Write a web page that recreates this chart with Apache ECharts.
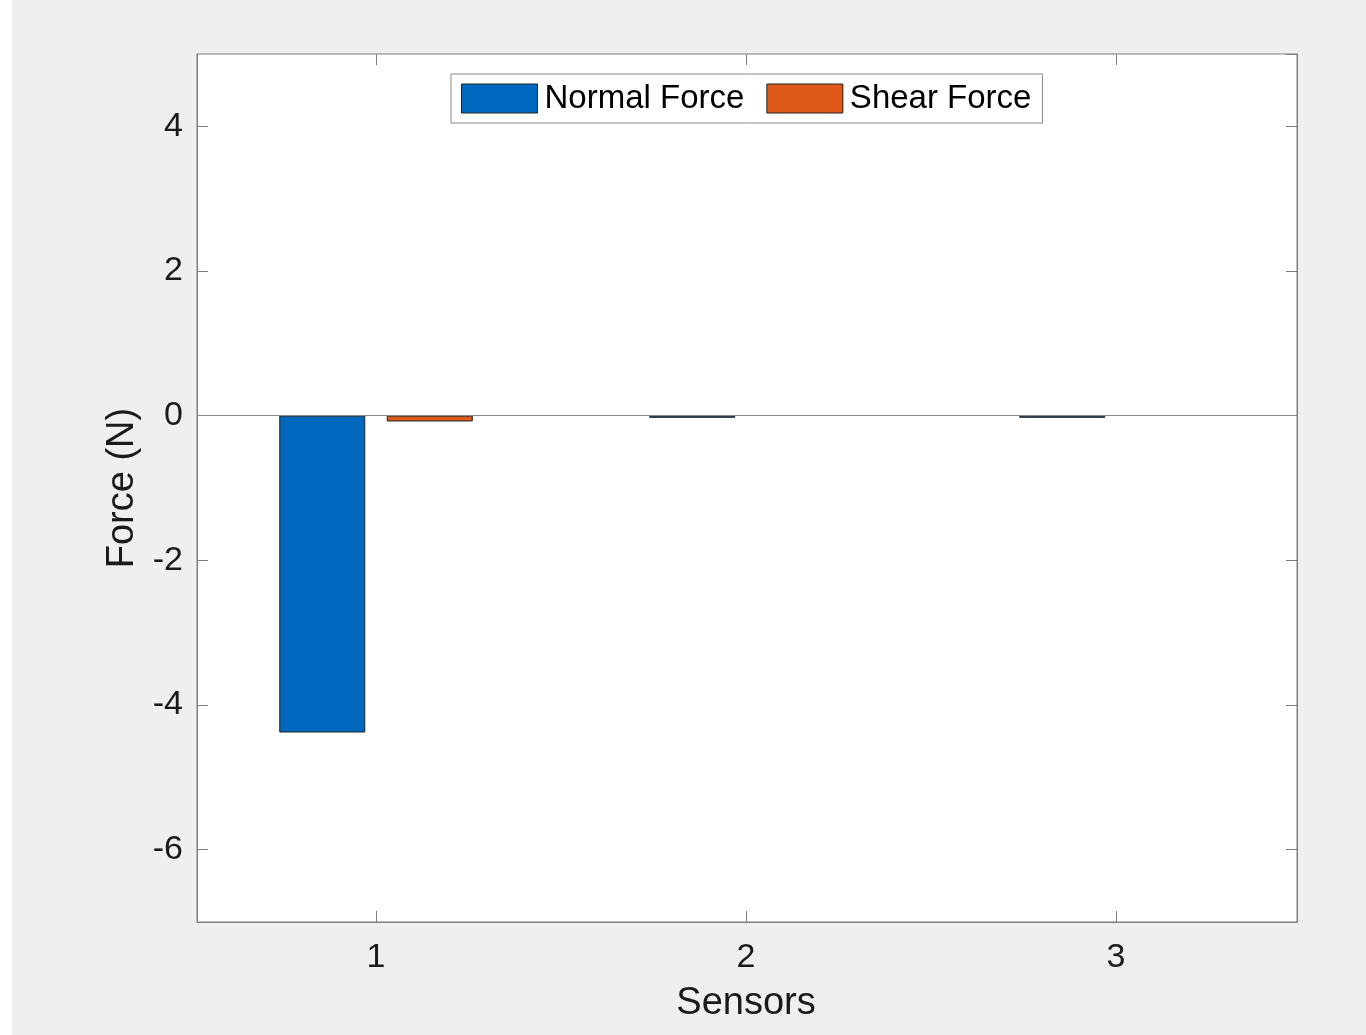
<!DOCTYPE html>
<html>
<head>
<meta charset="utf-8">
<script src="https://cdn.jsdelivr.net/npm/echarts@6/dist/echarts.min.js"></script>
<style>
  html, body { margin: 0; padding: 0; }
  body { width: 1366px; height: 1035px; background: linear-gradient(to right, #ffffff 12px, #efefef 12px); }
  #chart { width: 1366px; height: 1035px; }
</style>
</head>
<body>
<div id="chart"></div>
<script>
// ---- data ----
const categories = ['1', '2', '3'];
const normalForce = [-4.38, -0.03, -0.03];
const shearForce = [-0.08, 0, 0];
const seriesNames = ['Normal Force', 'Shear Force'];
const yMin = -7;
const yMax = 5;

const FONT = '"Liberation Sans", Arial, Helvetica, sans-serif';
const AXIS_COLOR = '#7d7d7d';
const TEXT_COLOR = '#1a1a1a';

const chart = echarts.init(document.getElementById('chart'), null, { renderer: 'canvas' });

const tickStyle = { show: true, inside: true, length: 11, lineStyle: { color: AXIS_COLOR, width: 1 } };

const option = {
  backgroundColor: 'transparent',
  animation: false,
  textStyle: { fontFamily: FONT },
  grid: [
    { // visible frame
      left: 197, top: 54, width: 1100, height: 868,
      show: true, backgroundColor: '#ffffff', borderColor: AXIS_COLOR, borderWidth: 1,
      containLabel: false, z: 0
    },
    { // category placement grid
      left: 191, top: 54, width: 1110, height: 868,
      show: false, containLabel: false
    }
  ],
  legend: {
    left: 451, top: 74,
    orient: 'horizontal',
    data: seriesNames,
    itemWidth: 76, itemHeight: 29, itemGap: 22,
    padding: [8, 11, 8, 10],
    backgroundColor: '#ffffff',
    borderColor: '#8a8a8a', borderWidth: 1, borderRadius: 0,
    icon: 'rect',
    itemStyle: { borderColor: '#222222', borderWidth: 1 },
    textStyle: { fontFamily: FONT, fontSize: 33, color: '#000000', padding: [0, 0, 0, 2] }
  },
  xAxis: [
    {
      gridIndex: 1,
      type: 'category', data: categories, position: 'bottom', boundaryGap: true,
      name: 'Sensors', nameLocation: 'middle', nameGap: 63,
      nameTextStyle: { fontFamily: FONT, fontSize: 38, color: TEXT_COLOR },
      axisLine: { show: false, onZero: false },
      axisTick: Object.assign({ alignWithLabel: true }, tickStyle),
      axisLabel: { show: true, margin: 19, fontFamily: FONT, fontSize: 34, color: TEXT_COLOR },
      splitLine: { show: false }
    },
    {
      gridIndex: 1,
      type: 'category', data: categories, position: 'top', boundaryGap: true,
      axisLine: { show: false, onZero: false },
      axisTick: Object.assign({ alignWithLabel: true }, tickStyle),
      axisLabel: { show: false },
      splitLine: { show: false }
    },
    {
      gridIndex: 0,
      type: 'category', data: categories, position: 'bottom',
      axisLine: { show: true, onZero: false, lineStyle: { color: AXIS_COLOR, width: 1 } },
      axisTick: { show: false }, axisLabel: { show: false }, splitLine: { show: false }
    }
  ],
  yAxis: [
    {
      gridIndex: 0,
      type: 'value', min: yMin, max: yMax, splitNumber: 6, position: 'left',
      name: 'Force (N)', nameLocation: 'middle', nameGap: 55, nameRotate: 90,
      nameTextStyle: { fontFamily: FONT, fontSize: 38, color: TEXT_COLOR },
      axisLine: { show: true, onZero: false, lineStyle: { color: AXIS_COLOR, width: 1 } },
      axisTick: tickStyle,
      axisLabel: { show: true, margin: 14, fontFamily: FONT, fontSize: 34, color: TEXT_COLOR, showMinLabel: false, showMaxLabel: false },
      splitLine: { show: false }
    },
    {
      gridIndex: 0,
      type: 'value', min: yMin, max: yMax, splitNumber: 6, position: 'right',
      axisLine: { show: true, onZero: false, lineStyle: { color: AXIS_COLOR, width: 1 } },
      axisTick: tickStyle,
      axisLabel: { show: false },
      splitLine: { show: false }
    },
    {
      gridIndex: 1,
      type: 'value', min: yMin, max: yMax, splitNumber: 6, position: 'left',
      axisLine: { show: false }, axisTick: { show: false }, axisLabel: { show: false }, splitLine: { show: false }
    }
  ],
  series: [
    {
      name: seriesNames[0], type: 'bar', xAxisIndex: 0, yAxisIndex: 2,
      data: normalForce,
      barWidth: 86, barGap: '25%',
      itemStyle: { color: '#0068be', borderColor: '#222222', borderWidth: 1 },
      z: 2
    },
    {
      name: seriesNames[1], type: 'bar', xAxisIndex: 0, yAxisIndex: 2,
      data: shearForce.map(v => v === 0 ? { value: v, itemStyle: { borderWidth: 0 } } : v),
      barWidth: 86, barGap: '25%',
      itemStyle: { color: '#df5a19', borderColor: '#222222', borderWidth: 1 },
      z: 2
    },
    {
      name: 'baseline', type: 'line', xAxisIndex: 2, yAxisIndex: 0,
      data: [],
      markLine: {
        silent: true, symbol: 'none', label: { show: false },
        lineStyle: { color: '#8a8a8a', width: 1, type: 'solid' },
        data: [{ yAxis: 0 }]
      },
      z: 3
    }
  ]
};

chart.setOption(option);
</script>
</body>
</html>
